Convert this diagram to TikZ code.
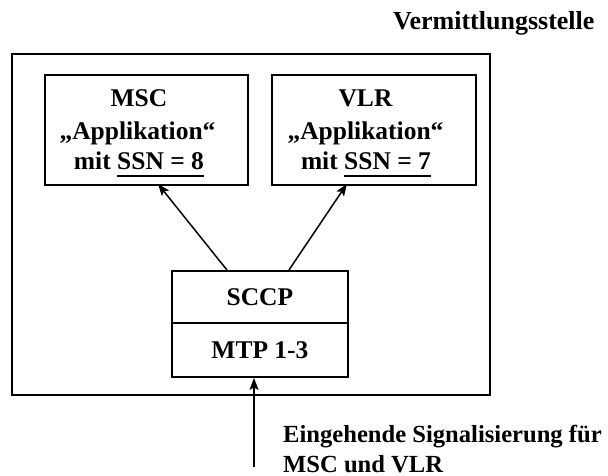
\documentclass[tikz,border=0pt]{standalone}
\usepackage{fontspec}
\setmainfont{Liberation Serif}
\usetikzlibrary{arrows.meta}
% underline drawn as a 2pt rule below the baseline
\newcommand{\thickul}[1]{\setbox0\hbox{#1}\rlap{\rule[-7pt]{\wd0}{1.8pt}}\box0}
\begin{document}
\begin{tikzpicture}[x=1pt,y=-1pt,
  box/.style={draw, line width=1.9pt, inner sep=0pt, anchor=north west},
  lbl/.style={font=\fontsize{25.5}{31}\selectfont\bfseries, inner sep=0pt},
  small/.style={font=\fontsize{24.6}{30}\selectfont\bfseries, inner sep=0pt},
  arr/.style={line width=1.5pt, -{Stealth[length=12pt,width=9pt,inset=2.5pt]}}]
\useasboundingbox (0,0) rectangle (608,476);

% exchange frame and its title
\node[lbl, font=\fontsize{26}{31}\selectfont\bfseries, anchor=base west] (title) at (393,29.5) {Vermittlungsstelle};
\node[box, minimum width=478pt, minimum height=341pt] (outer) at (11,53) {};

% application boxes
\node[box, minimum width=203pt, minimum height=110pt] (msc) at (44,74) {};
\node[lbl, anchor=base] (msc1) at (139,107) {MSC};
\node[lbl, anchor=base] (msc2) at (137.5,139.5) {„Applikation“};
\node[lbl, anchor=base] (msc3) at (139,170) {mit \thickul{SSN = 8}};

\node[box, minimum width=204pt, minimum height=110pt] (vlr) at (271,74) {};
\node[lbl, anchor=base] (vlr1) at (365.5,107) {VLR};
\node[lbl, anchor=base] (vlr2) at (365.5,139.5) {„Applikation“};
\node[lbl, anchor=base] (vlr3) at (366,170) {mit \thickul{SSN = 7}};

% protocol stack
\node[box, lbl, minimum width=176pt, minimum height=52pt] (sccp) at (171,270) {SCCP};
\node[box, lbl, minimum width=176pt, minimum height=54pt] (mtp) at (171,322) {MTP 1-3};

% routing arrows to the subsystems
\draw[arr] ([xshift=-33pt]sccp.north) -- ([xshift=11.5pt,yshift=2pt]msc.south);
\draw[arr] ([xshift=29pt]sccp.north) -- ([xshift=-27pt,yshift=2pt]vlr.south);

% incoming signalling
\coordinate (sig) at (254,467);
\draw[arr] (sig) -- (sig |- mtp.south);
\node[small, anchor=base west] (in1) at (283,442) {Eingehende Signalisierung für};
\node[small, anchor=base west] (in2) at (283,472) {MSC und VLR};
\end{tikzpicture}
\end{document}
